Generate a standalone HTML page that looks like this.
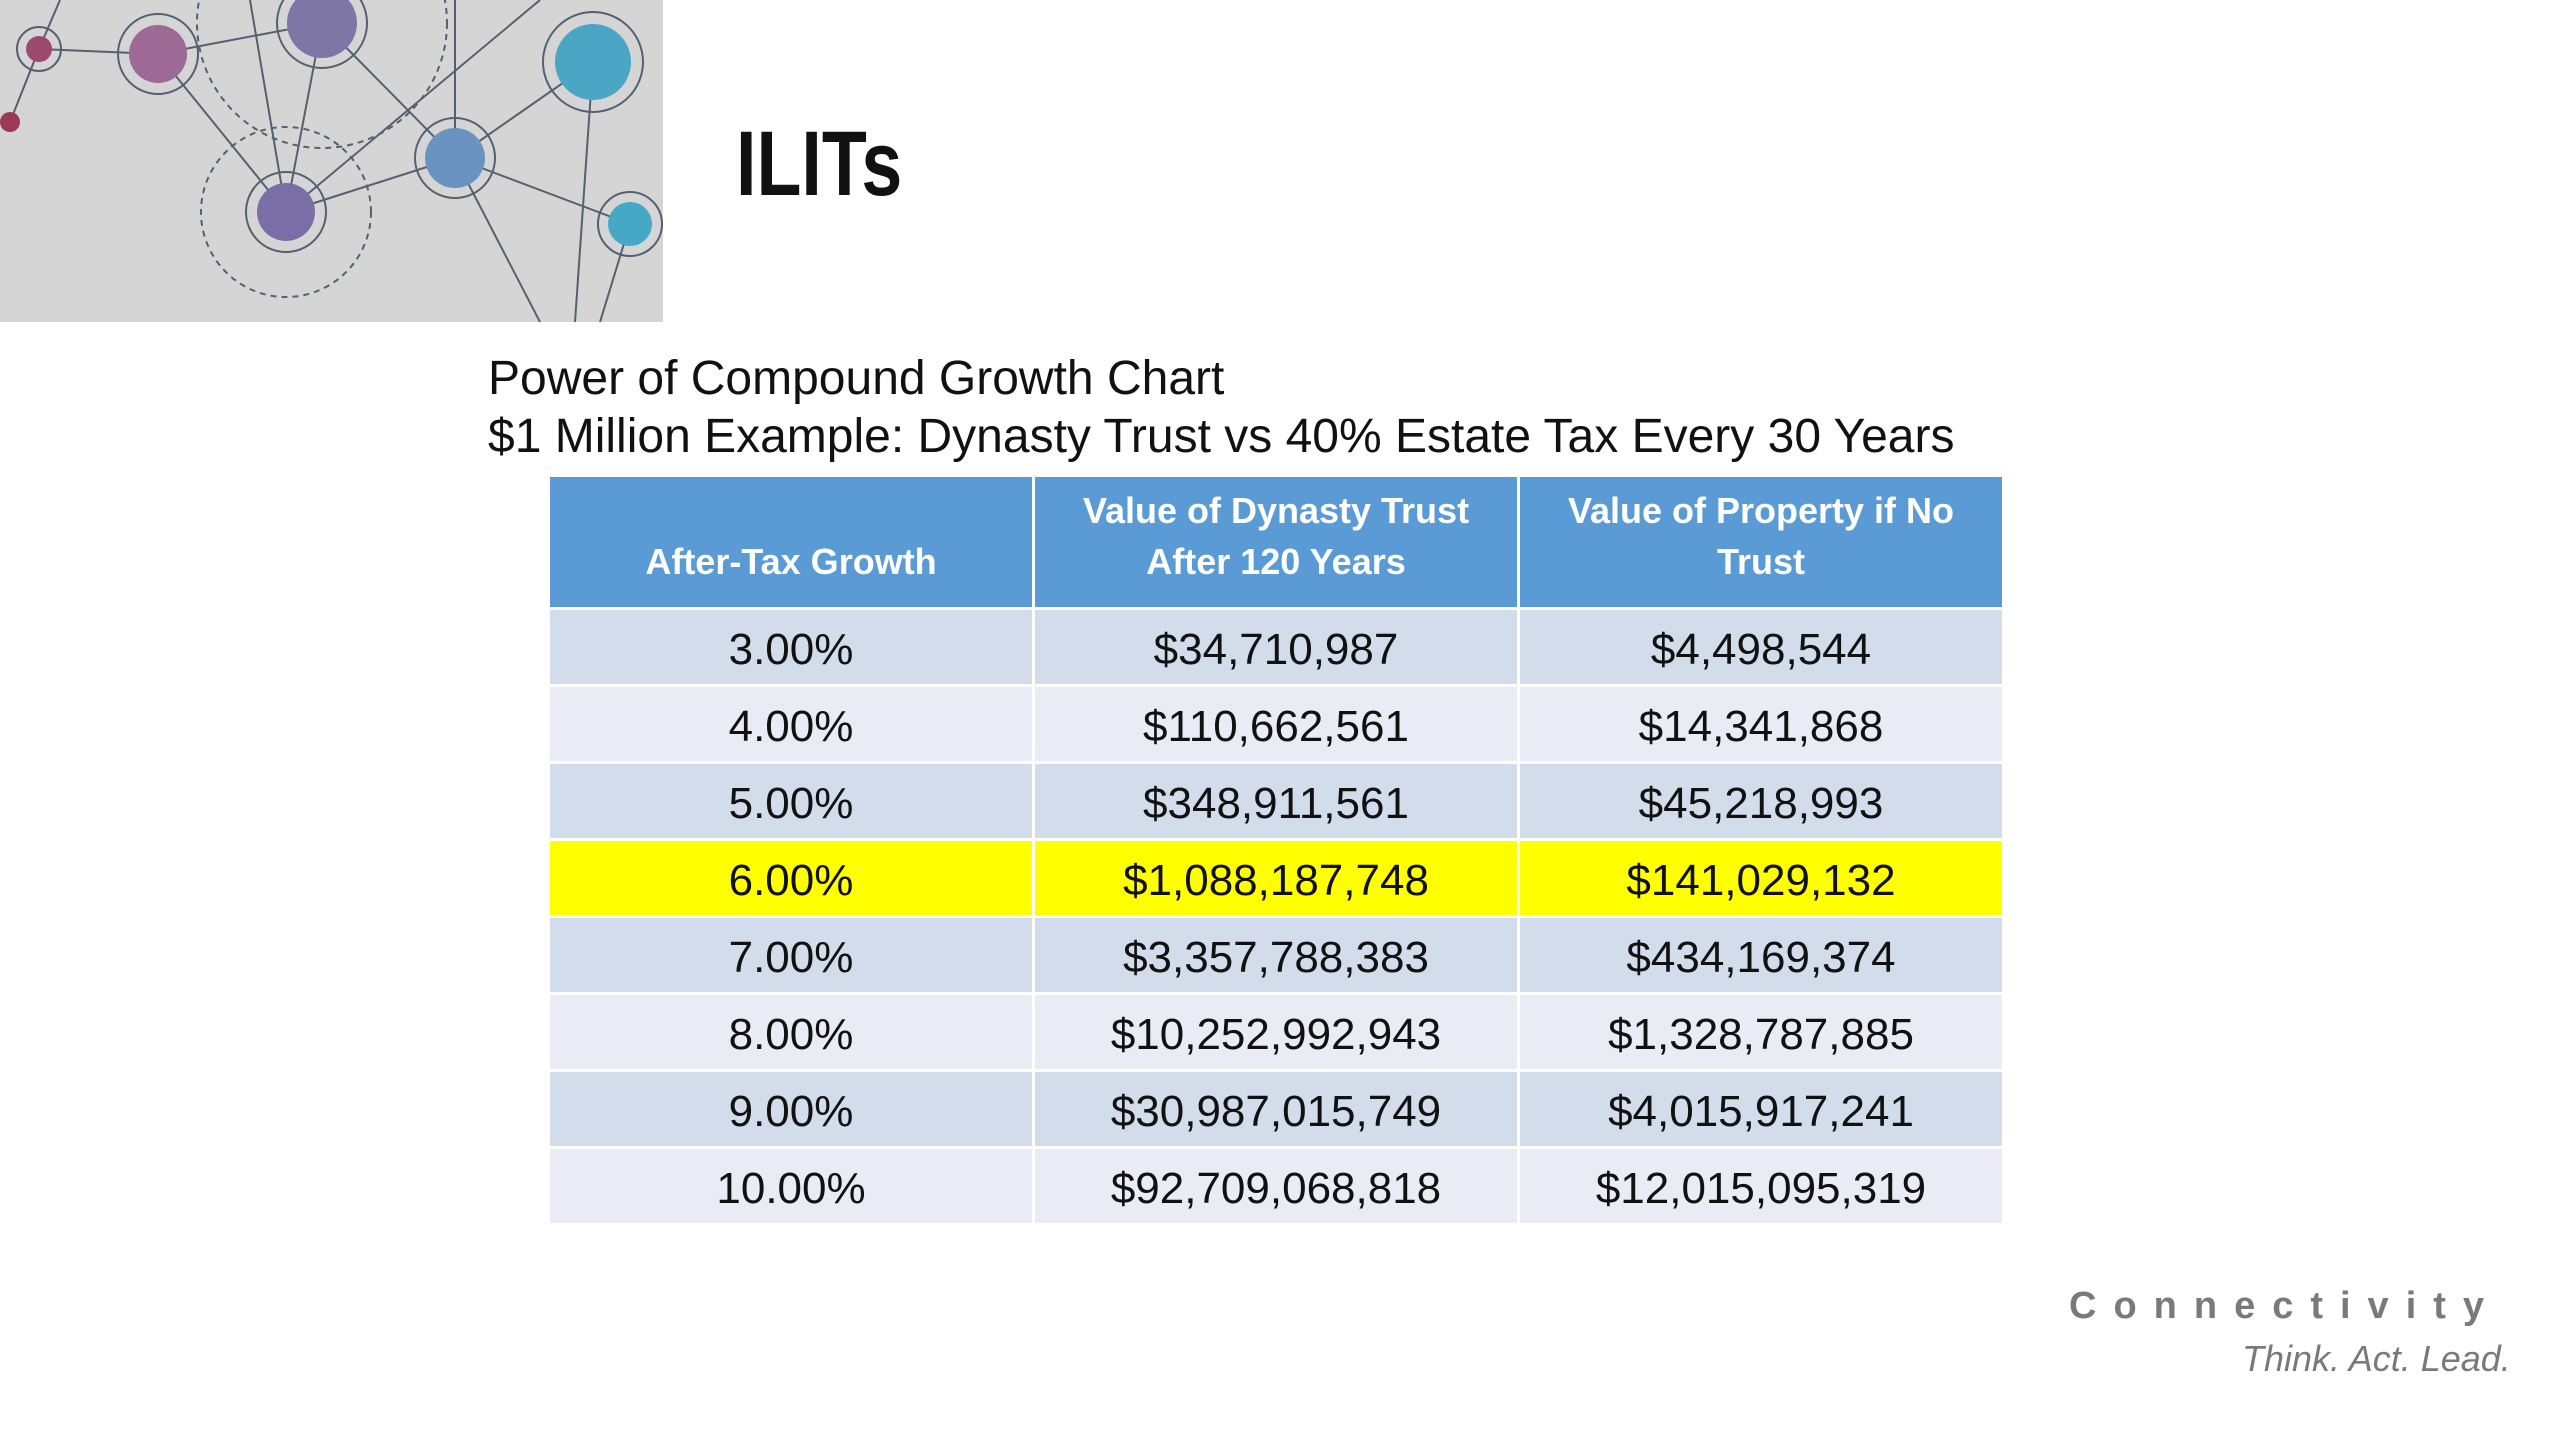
<!DOCTYPE html>
<html><head><meta charset="utf-8"><style>
body{margin:0;width:2560px;height:1440px;background:#fff;position:relative;overflow:hidden;font-family:"Liberation Sans",sans-serif}
.abs{position:absolute}
table{position:absolute;left:550px;top:477px;width:1458px;border-collapse:separate;border-spacing:3px 3px;margin:-3px}
th{background:#5b9bd5;color:#fff;font-weight:bold;font-size:36px;line-height:51px;height:130px;padding:0;vertical-align:bottom;padding-bottom:20px;box-sizing:border-box}
td{height:74px;padding:5px 0 0 0;box-sizing:border-box;text-align:center;font-size:44px;color:#111}
tr.o td{background:#d2dcea}
tr.e td{background:#e9ecf4}
tr.y td{background:#ffff00}
</style></head><body>
<svg class="abs" style="left:0;top:0" width="663" height="322" viewBox="0 0 663 322">
<rect width="663" height="322" fill="#d5d5d5"/>
<g stroke="#556070" stroke-width="2" fill="none">
<line x1="39" y1="49" x2="158" y2="54"/><line x1="39" y1="49" x2="10" y2="122"/><line x1="158" y1="54" x2="322" y2="23"/><line x1="158" y1="54" x2="286" y2="212"/><line x1="322" y1="23" x2="455" y2="158"/><line x1="322" y1="23" x2="286" y2="212"/><line x1="286" y1="212" x2="455" y2="158"/><line x1="286" y1="212" x2="540" y2="0"/><line x1="455" y1="158" x2="593" y2="62"/><line x1="455" y1="158" x2="630" y2="224"/><line x1="455" y1="158" x2="540" y2="322"/><line x1="593" y1="62" x2="575" y2="322"/><line x1="630" y1="224" x2="600" y2="322"/><line x1="250" y1="0" x2="286" y2="212"/><line x1="455" y1="0" x2="455" y2="158"/><line x1="60" y1="0" x2="39" y2="49"/>
<circle cx="286" cy="212" r="85" stroke-dasharray="6 5"/><circle cx="322" cy="23" r="125" stroke-dasharray="6 5"/>
<circle cx="39" cy="49" r="22"/><circle cx="158" cy="54" r="40"/><circle cx="322" cy="23" r="45"/><circle cx="593" cy="62" r="50"/><circle cx="455" cy="158" r="40"/><circle cx="286" cy="212" r="40"/><circle cx="630" cy="224" r="32"/>
</g>
<circle cx="39" cy="49" r="13" fill="#9a4a6e"/><circle cx="10" cy="122" r="10" fill="#9a3a55"/><circle cx="158" cy="54" r="29" fill="#9c6a94"/><circle cx="322" cy="23" r="35" fill="#7e76a4"/><circle cx="593" cy="62" r="38" fill="#4aa6c4"/><circle cx="455" cy="158" r="30" fill="#6a94bf"/><circle cx="286" cy="212" r="29" fill="#7a6ea6"/><circle cx="630" cy="224" r="22" fill="#44a8c6"/>
</svg>
<div class="abs" style="left:736px;top:112px;font-size:92px;font-weight:bold;transform:scaleX(0.8);transform-origin:left;color:#111">ILITs</div>
<div class="abs" style="left:488px;top:350px;font-size:48px;line-height:58px;color:#111;white-space:nowrap">Power of Compound Growth Chart<br>$1 Million Example: Dynasty Trust vs 40% Estate Tax Every 30 Years</div>
<table>
<tr><th style="width:482px">After-Tax Growth</th><th style="width:482px">Value of Dynasty Trust<br>After 120 Years</th><th>Value of Property if No<br>Trust</th></tr>
<tr class="o"><td>3.00%</td><td>$34,710,987</td><td>$4,498,544</td></tr>
<tr class="e"><td>4.00%</td><td>$110,662,561</td><td>$14,341,868</td></tr>
<tr class="o"><td>5.00%</td><td>$348,911,561</td><td>$45,218,993</td></tr>
<tr class="y"><td>6.00%</td><td>$1,088,187,748</td><td>$141,029,132</td></tr>
<tr class="o"><td>7.00%</td><td>$3,357,788,383</td><td>$434,169,374</td></tr>
<tr class="e"><td>8.00%</td><td>$10,252,992,943</td><td>$1,328,787,885</td></tr>
<tr class="o"><td>9.00%</td><td>$30,987,015,749</td><td>$4,015,917,241</td></tr>
<tr class="e"><td>10.00%</td><td>$92,709,068,818</td><td>$12,015,095,319</td></tr>
</table>
<div class="abs" style="left:2069px;top:1285px;font-size:38px;font-weight:bold;color:#7a7a7a;letter-spacing:17px;white-space:nowrap">Connectivity</div>
<div class="abs" style="left:2242px;top:1338px;font-size:36px;font-style:italic;color:#7a7a7a;white-space:nowrap">Think. Act. Lead.</div>
</body></html>
